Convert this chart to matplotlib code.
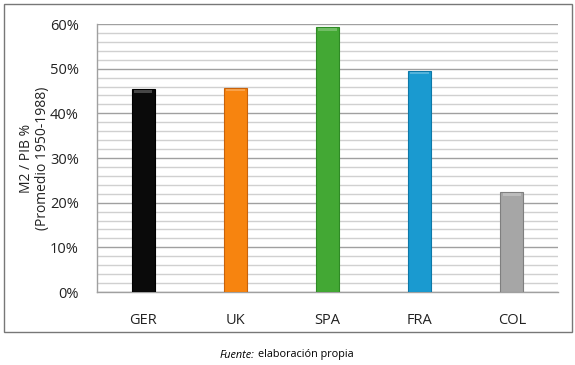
import matplotlib
matplotlib.use("Agg")
import matplotlib.pyplot as plt
from matplotlib.patches import Rectangle
from matplotlib.ticker import MultipleLocator, PercentFormatter
import numpy as np

plt.rcParams['font.family'] = ['Open Sans', 'DejaVu Sans']

# datos
paises = ['GER', 'UK', 'SPA', 'FRA', 'COL']
m2_pib = [45.4, 45.7, 59.3, 49.5, 22.3]
colores = ['#0a0a0a', '#f7840f', '#43a834', '#1a9ad0', '#a6a6a6']
bordes = ['#000000', '#c9620a', '#2f8a25', '#0d78a8', '#7f7f7f']

fig = plt.figure(figsize=(5.75, 3.65), dpi=100)
ax = fig.add_axes([97 / 575, 0.2, 461 / 575, 268 / 365])

x = np.arange(len(paises))
ax.bar(x, m2_pib, width=0.25, color=colores, edgecolor=bordes, linewidth=0.8, zorder=3)
# brillo superior de las barras
for xi, v in zip(x, m2_pib):
    ax.bar(xi, 0.6, bottom=v - 0.8, width=0.2, color='white', alpha=0.25,
           linewidth=0, zorder=4)

ax.set_xlim(-0.5, len(paises) - 0.5)
ax.set_ylim(0, 60)
ax.yaxis.set_major_locator(MultipleLocator(10))
ax.yaxis.set_minor_locator(MultipleLocator(2))
ax.yaxis.set_major_formatter(PercentFormatter(decimals=0))
ax.grid(True, which='major', axis='y', color='#a0a0a0', linewidth=1.0, zorder=0)
ax.grid(True, which='minor', axis='y', color='#d0d0d0', linewidth=1.0, zorder=0)

ax.set_xticks(x)
ax.set_xticklabels(paises)
ax.tick_params(axis='both', which='both', length=0, labelsize=10.5, colors='#222222')
ax.tick_params(axis='x', pad=15)
ax.tick_params(axis='y', pad=13)

for s in ['top', 'right']:
    ax.spines[s].set_visible(False)
for s in ['left', 'bottom']:
    ax.spines[s].set_color('#a0a0a0')
    ax.spines[s].set_linewidth(1.0)

ax.set_ylabel('M2 / PIB %\n(Promedio 1950-1988)', fontsize=10, color='#222222',
              linespacing=1.1, va='center')
ax.yaxis.set_label_coords(-0.136, 0.5)

# marco exterior
fig.patches.append(Rectangle((4 / 575, 1 - 332 / 365), 568 / 575, 328 / 365,
                             transform=fig.transFigure, fill=False,
                             edgecolor='#777777', linewidth=1.0))

# nota al pie
t1 = fig.text(220 / 575, 1 - 355 / 365, 'Fuente:', fontsize=7.8, style='italic',
              ha='left', va='center')
fig.canvas.draw()
bb = t1.get_window_extent()
fig.text((bb.x1 + 3) / 575, 1 - 355 / 365, 'elaboración propia', fontsize=7.8,
         ha='left', va='center')

fig.savefig('out.png', dpi=100, facecolor='white')
